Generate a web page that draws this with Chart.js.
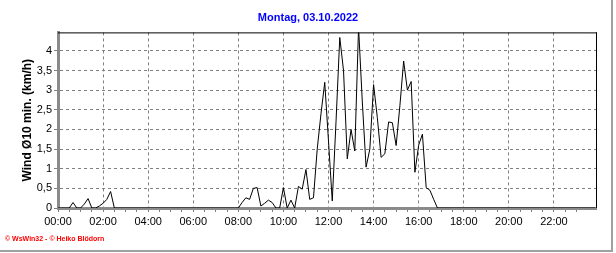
<!DOCTYPE html>
<html>
<head>
<meta charset="utf-8">
<script src="https://cdn.jsdelivr.net/npm/chart.js"></script>
<style>
    html, body { margin: 0; padding: 0; background: #fff; }
    #wrap { position: relative; width: 616px; height: 253px; }
    #footer {
        position: absolute; left: 5px; top: 235px;
        font: bold 7px "Liberation Sans", Arial, sans-serif;
        color: #ff0000; white-space: nowrap;
    }
</style>
</head>
<body>
<div id="wrap">
    <canvas id="windChart" width="616" height="253"></canvas>
    <div id="footer">© WsWin32 - © Heiko Blödorn</div>
</div>
<script>
// 10 minute means, 00:00 .. 23:50
const stepMinutes = 10;
const windValues = [
    0, 0, 0, 0, 0.14, 0, 0, 0.1, 0.24, 0, 0, 0.05, 0.12, 0.22, 0.42,
    0, 0, 0, 0, 0, 0, 0, 0, 0, 0, 0, 0, 0, 0, 0, 0, 0, 0, 0, 0, 0, 0, 0, 0, 0, 0, 0, 0, 0, 0, 0, 0, 0,
    0, 0.14, 0.26, 0.22, 0.5, 0.52, 0.05, 0.12, 0.2, 0.14, 0, 0,
    0.52, 0, 0.2, 0, 0.55, 0.48, 0.98, 0.22, 0.26, 1.5, 2.4, 3.2,
    1.7, 0.18, 2.2, 4.34, 3.5, 1.25, 2.0, 1.45, 4.6, 2.7, 1.04, 1.5,
    3.14, 2.3, 1.29, 1.38, 2.19, 2.17, 1.59, 2.6, 3.74, 3.0, 3.22, 0.91,
    1.6, 1.88, 0.52, 0.45, 0.22,
    0, 0, 0, 0, 0, 0, 0, 0, 0, 0, 0, 0, 0, 0, 0, 0, 0, 0, 0, 0, 0, 0,
    0, 0, 0, 0, 0, 0, 0, 0, 0, 0, 0, 0, 0, 0, 0, 0, 0, 0, 0, 0, 0
];
const xTickLabels = ["00:00", "02:00", "04:00", "06:00", "08:00", "10:00",
    "12:00", "14:00", "16:00", "18:00", "20:00", "22:00"];
const titleText = "Montag, 03.10.2022";
const yTitleText = "Wind Ø10 min. (km/h)";

const points = windValues.map((v, i) => ({ x: i * stepMinutes, y: v }));

const isMultiple = (v, step) => Math.abs(v / step - Math.round(v / step)) < 1e-6;

// black top/right border and the grey frame of the picture
const framePlugin = {
    id: 'frame',
    afterDraw(chart) {
        const { ctx, chartArea: a } = chart;
        ctx.save();
        ctx.strokeStyle = '#000';
        ctx.lineWidth = 1;
        ctx.beginPath();
        ctx.moveTo(a.left, a.top + 0.5);
        ctx.lineTo(a.right + 1, a.top + 0.5);
        ctx.moveTo(a.right + 0.5, a.top);
        ctx.lineTo(a.right + 0.5, a.bottom);
        ctx.stroke();
        ctx.strokeStyle = '#a0a0a0';
        ctx.lineWidth = 2;
        ctx.beginPath();
        ctx.moveTo(612, 0);
        ctx.lineTo(612, 252);
        ctx.moveTo(0, 251);
        ctx.lineTo(613, 251);
        ctx.stroke();
        ctx.restore();
    }
};

const font = { family: '"Liberation Sans", Arial, sans-serif', size: 11 };

new Chart(document.getElementById('windChart'), {
    type: 'line',
    data: {
        datasets: [{
            data: points,
            borderColor: '#000',
            borderWidth: 1,
            pointRadius: 0,
            tension: 0,
            fill: false
        }]
    },
    options: {
        responsive: false,
        animation: false,
        devicePixelRatio: 1,
        layout: { padding: 0 },
        plugins: {
            legend: { display: false },
            tooltip: { enabled: false },
            title: {
                display: true,
                text: titleText,
                color: '#0000ff',
                font: { family: font.family, size: 11, weight: 'bold' },
                padding: { top: 11, bottom: 8.2 }
            }
        },
        scales: {
            x: {
                type: 'linear',
                min: 0,
                max: 1432,
                afterBuildTicks: scale => {
                    scale.ticks = scale.ticks.filter(t => isMultiple(t.value, 30));
                },
                afterFit: scale => { scale.height = 45; },
                ticks: {
                    stepSize: 30,
                    autoSkip: false,
                    maxRotation: 0,
                    padding: 3,
                    color: '#000',
                    font: font,
                    callback: v => isMultiple(v, 120) ? xTickLabels[Math.round(v / 120)] : ''
                },
                grid: {
                    color: c => (c.tick && c.tick.value > 0 && isMultiple(c.tick.value, 120)) ? '#808080' : 'rgba(0,0,0,0)',
                    tickColor: '#808080',
                    tickLength: 4,
                    tickBorderDash: [],
                    lineWidth: 1
                },
                border: { display: true, color: '#8a8a8a', width: 3, dash: [3, 3] }
            },
            y: {
                min: 0,
                max: 4.47,
                afterBuildTicks: scale => {
                    scale.ticks = scale.ticks.filter(t => isMultiple(t.value, 0.5));
                },
                afterFit: scale => { scale.width = 58; },
                ticks: {
                    stepSize: 0.5,
                    padding: 2,
                    color: '#000',
                    font: font,
                    callback: v => String(v).replace('.', ',')
                },
                grid: {
                    color: c => (c.tick && c.tick.value > 0) ? '#808080' : 'rgba(0,0,0,0)',
                    tickColor: '#808080',
                    tickLength: 4,
                    tickBorderDash: [],
                    lineWidth: 1
                },
                border: { display: true, color: '#8a8a8a', width: 3, dash: [3, 3] },
                title: {
                    display: true,
                    text: yTitleText,
                    color: '#000',
                    font: { family: font.family, size: 12, weight: 'bold' },
                    padding: { top: 20, bottom: 0 }
                }
            },
            // empty right axis, only keeps the white margin at the right
            yRight: {
                position: 'right',
                min: 0,
                max: 4.47,
                afterFit: scale => { scale.width = 20; },
                ticks: { display: false },
                grid: { display: false },
                border: { display: false }
            }
        }
    },
    plugins: [framePlugin]
});
</script>
</body>
</html>
